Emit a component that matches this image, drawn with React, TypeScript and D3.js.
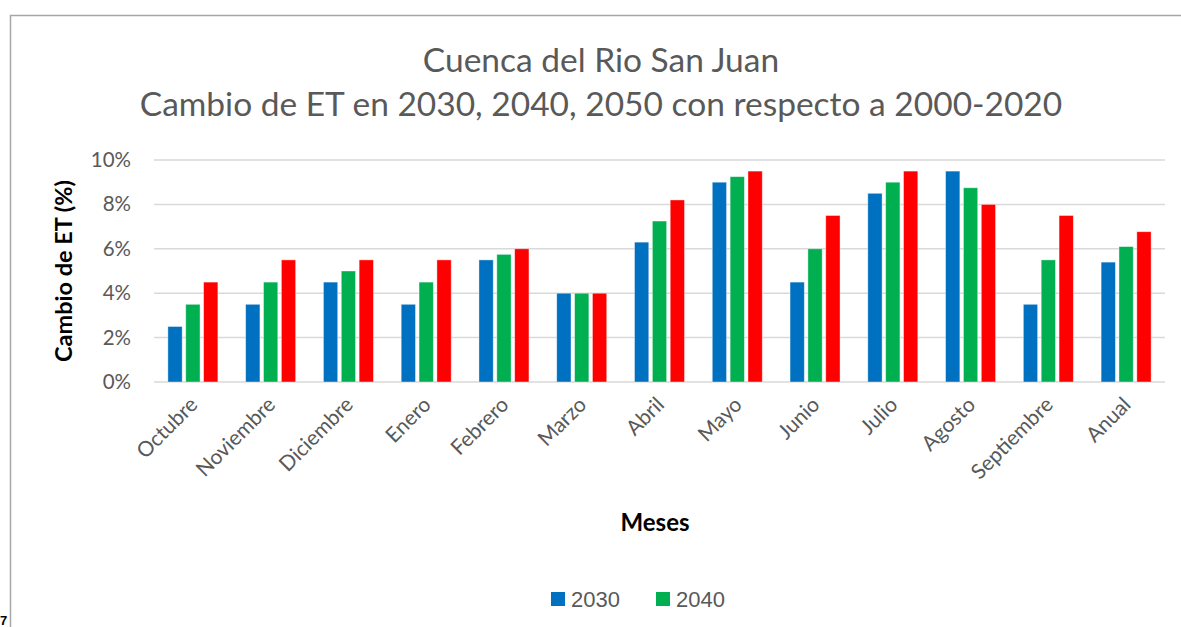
import { useEffect, useRef } from 'react';
import * as d3 from 'd3';

const meses = ['Octubre', 'Noviembre', 'Diciembre', 'Enero', 'Febrero', 'Marzo', 'Abril', 'Mayo', 'Junio', 'Julio', 'Agosto', 'Septiembre', 'Anual'];
const series2030 = [2.5, 3.5, 4.5, 3.5, 5.5, 4.0, 6.3, 9.0, 4.5, 8.5, 9.5, 3.5, 5.4];
const series2040 = [3.5, 4.5, 5.0, 4.5, 5.75, 4.0, 7.25, 9.25, 6.0, 9.0, 8.75, 5.5, 6.1];
const series2050 = [4.5, 5.5, 5.5, 5.5, 6.0, 4.0, 8.2, 9.5, 7.5, 9.5, 8.0, 7.5, 6.77];
const yTicks = [0, 2, 4, 6, 8, 10];
const seriesNames = ['2030', '2040', '2050'];
const colores = ['#0070C0', '#00B050', '#FF0000'];
const legendSeries = ['2030', '2040'];

const App = () => {
    const svgRef = useRef<SVGSVGElement | null>(null);

    useEffect(() => {
        if (!svgRef.current) return;
        const svg = d3.select(svgRef.current);
        svg.selectAll('*').remove();

        const W = 1181, H = 627;
        const left = 154, right = 1165, top = 160, bottom = 382;
        const calibri = 'Lato, "Open Sans", sans-serif';
        const gray = '#595959';

        svg.attr('width', W).attr('height', H);

        // chart frame
        svg.append('rect')
            .attr('x', 10.5).attr('y', 15.5)
            .attr('width', 1300).attr('height', 700)
            .attr('fill', '#fff')
            .attr('stroke', '#a6a6a6')
            .attr('stroke-width', 1.5);

        // the stray "7" at the corner
        svg.append('text')
            .attr('x', 0).attr('y', 625)
            .attr('font-family', 'Arial, "Liberation Sans", sans-serif')
            .attr('font-size', 13).attr('font-weight', 700)
            .attr('fill', '#000')
            .text('7');

        // title
        const title = svg.append('text')
            .attr('text-anchor', 'middle')
            .attr('font-family', calibri)
            .attr('font-size', 33.5)
            .attr('fill', gray);
        title.append('tspan').attr('x', 601).attr('y', 72).text('Cuenca del Rio San Juan');
        title.append('tspan').attr('x', 601).attr('y', 116).text('Cambio de ET en 2030, 2040, 2050 con respecto a 2000-2020');

        const x = d3.scaleBand().domain(meses).range([left, right]);
        const y = d3.scaleLinear().domain([0, 10]).range([bottom, top]);
        const inner = d3.scaleBand().domain(seriesNames).range([-25, 25]).paddingInner(0.2);

        // grid
        svg.append('g').selectAll('line')
            .data(yTicks)
            .enter()
            .append('line')
            .attr('x1', left).attr('x2', right)
            .attr('y1', d => y(d)).attr('y2', d => y(d))
            .attr('stroke', '#d9d9d9')
            .attr('stroke-width', 1.5);

        // y tick labels
        svg.append('g').selectAll('text')
            .data(yTicks)
            .enter()
            .append('text')
            .attr('x', 131).attr('y', d => y(d) + 7)
            .attr('text-anchor', 'end')
            .attr('font-family', calibri)
            .attr('font-size', 20.5)
            .attr('fill', gray)
            .text(d => `${d}%`);

        // bars
        const data = [series2030, series2040, series2050];
        data.forEach((vals, si) => {
            svg.append('g').selectAll('rect')
                .data(vals)
                .enter()
                .append('rect')
                .attr('x', (d, i) => (x(meses[i]) as number) + x.bandwidth() / 2 + (inner(seriesNames[si]) as number))
                .attr('y', d => y(d))
                .attr('width', inner.bandwidth())
                .attr('height', d => bottom - y(d))
                .attr('fill', colores[si])
                .attr('stroke', '#ffffff')
                .attr('stroke-opacity', 0.5)
                .attr('stroke-width', 0.8);
        });

        // x labels
        svg.append('g').selectAll('text')
            .data(meses)
            .enter()
            .append('text')
            .attr('transform', d => `translate(${(x(d) as number) + x.bandwidth() / 2 + 6},${bottom + 24}) rotate(-45)`)
            .attr('text-anchor', 'end')
            .attr('font-family', calibri)
            .attr('font-size', 21)
            .attr('fill', gray)
            .text(d => d);

        // axis titles
        svg.append('text')
            .attr('x', 655).attr('y', 531)
            .attr('text-anchor', 'middle')
            .attr('font-family', calibri)
            .attr('font-size', 24).attr('font-weight', 700)
            .attr('fill', '#000')
            .text('Meses');

        svg.append('text')
            .attr('transform', `translate(72,${(top + bottom) / 2}) rotate(-90)`)
            .attr('text-anchor', 'middle')
            .attr('font-family', calibri)
            .attr('font-size', 23.5).attr('font-weight', 700)
            .attr('fill', '#000')
            .text('Cambio de ET (%)');

        // legend
        const legend = svg.append('g').selectAll('g')
            .data(legendSeries)
            .enter()
            .append('g')
            .attr('transform', (d, i) => `translate(${551 + i * 105},592)`);
        legend.append('rect')
            .attr('width', 14).attr('height', 14)
            .attr('fill', (d, i) => colores[i]);
        legend.append('text')
            .attr('x', 20).attr('y', 15)
            .attr('font-family', 'Arial, "Liberation Sans", sans-serif')
            .attr('font-size', 22)
            .attr('fill', gray)
            .text(d => d);
    }, []);

    return (
        <svg ref={svgRef} style={{ position: 'absolute', left: 0, top: 0, display: 'block' }}></svg>
    );
};

export default App;
